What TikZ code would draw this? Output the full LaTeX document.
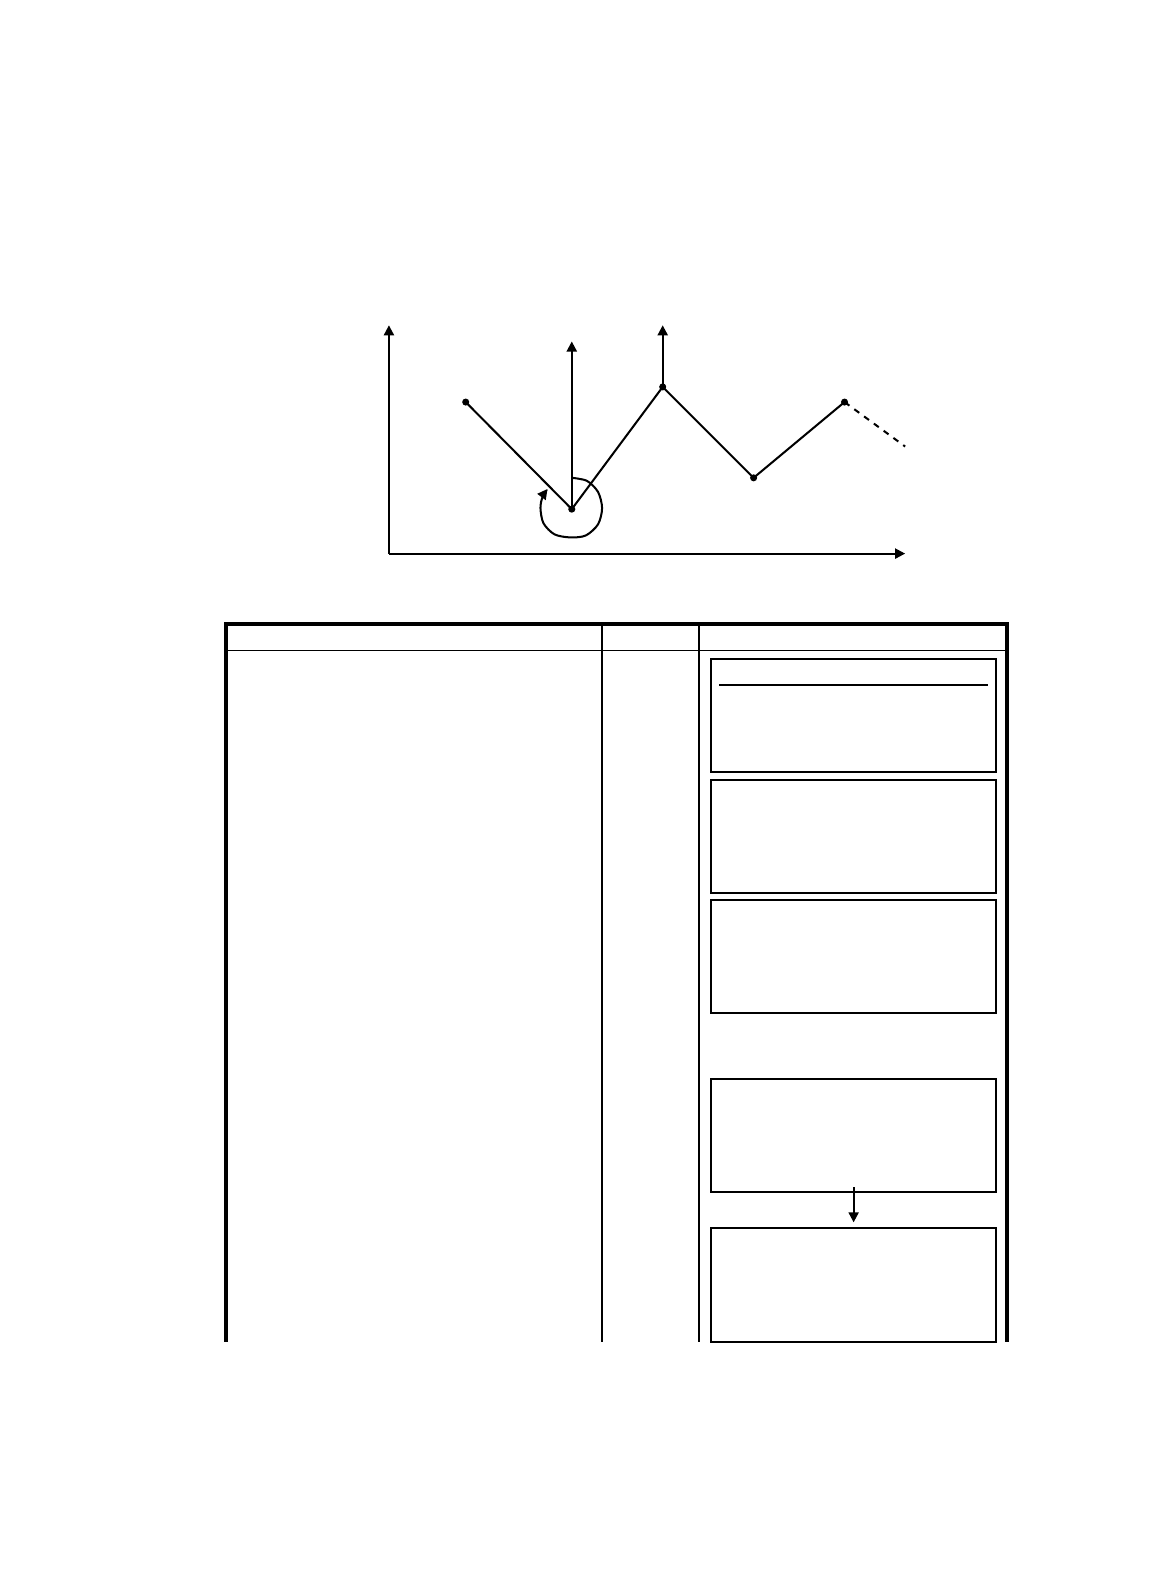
\documentclass[tikz,border=0pt]{standalone}
\usetikzlibrary{arrows.meta}
\begin{document}
\begin{tikzpicture}[x=0.5pt,y=-0.5pt,
  arr/.style={-{Triangle[length=5pt,width=5pt]}},
  pt/.style={circle,fill,inner sep=0pt,minimum size=3.5pt},
  ln/.style={line width=1pt},
  boxn/.style={draw,line width=1pt,minimum width=141pt,minimum height=56pt,inner sep=0pt},
  thickb/.style={line width=2pt},
  thinb/.style={line width=0.6pt}]
\useasboundingbox (0,0) rectangle (1140,1568);
% graph
\coordinate (O) at (385,548);
\coordinate (Ytip) at (385,322);
\coordinate (Xtip) at (896,548);
\draw[ln,arr] (O) -- (Ytip);
\draw[ln,arr] (O) -- (Xtip);
\node[pt] (A) at (461,398) {};
\node[pt] (B) at (566,504) {};
\node[pt] (C) at (656,383) {};
\node[pt] (D) at (746,473) {};
\node[pt] (E) at (836,398) {};
\coordinate (Btip) at (566,338);
\coordinate (Ctip) at (656,322);
\coordinate (F) at (896,442);
\draw[ln] (A.center) -- (B.center) -- (C.center) -- (D.center) -- (E.center);
\draw[ln,dashed] (E.center) -- (F);
\draw[ln,arr] (B.center) -- (Btip);
\draw[ln,arr] (C.center) -- (Ctip);
\draw[ln,arr] plot[smooth] coordinates {(566,473) (581,476) (592,487) (596,503) (592,519) (580,530) (565,532) (549,529) (538,518) (535,503) (537,492) (542,484)};
% table
\coordinate (TL) at (224,618);
\coordinate (TR) at (997,618);
\coordinate (BL) at (224,1328);
\coordinate (BR) at (997,1328);
\draw[thickb] (BL) -- (TL) -- (TR) -- (BR);
\draw[thinb] (224,644) -- (997,644);
\draw[thinb] (596,618) -- (596,1328);
\draw[thinb] (692,618) -- (692,1328);
% boxes
\node[boxn] (b1) at (845,708) {};
\node[boxn] (b2) at (845,828) {};
\node[boxn] (b3) at (845,946.5) {};
\node[boxn] (b4) at (845,1124) {};
\node[boxn] (b5) at (845,1272) {};
\draw[ln] (712,678) -- (978,678);
\draw[ln,arr,shorten >=2.5pt] ([yshift=3pt]b4.south) -- (b5.north);
\end{tikzpicture}
\end{document}
